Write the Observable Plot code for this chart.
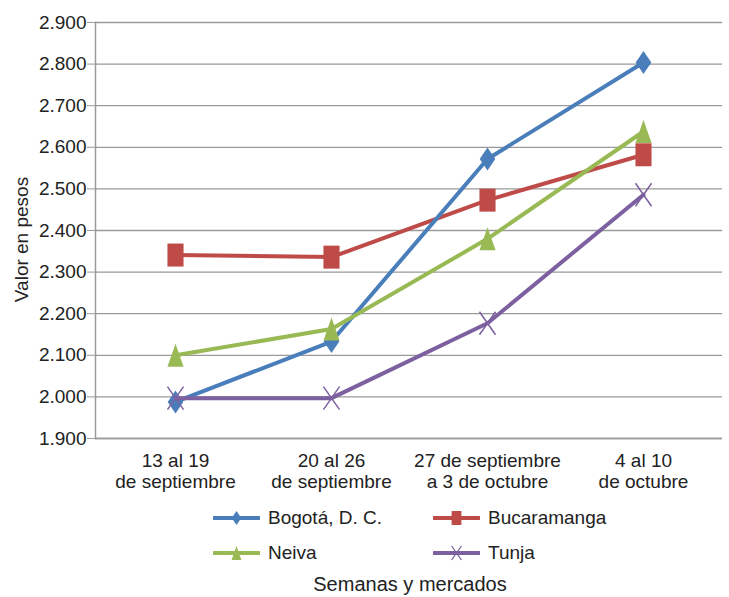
<!DOCTYPE html>
<html><head><meta charset="utf-8">
<script src="https://cdn.jsdelivr.net/npm/d3@7"></script>
<script src="https://cdn.jsdelivr.net/npm/@observablehq/plot@0.6"></script>
<style>
body{margin:0;background:#fff;font-family:Arial,"Liberation Sans",sans-serif;}
#wrap{position:relative;width:729px;height:597px;overflow:hidden;background:#fff}
#legend{position:relative;width:729px;height:97px}
.leg{position:absolute;display:flex;align-items:center;font-size:19px;color:#222;height:24px;line-height:24px;white-space:nowrap}
.leg svg{margin-right:8px}
#xtitle{position:absolute;left:0;width:820px;text-align:center;font-size:20px;color:#222;line-height:24px}
</style></head><body><div id="wrap"></div>
<script>
const weeks = ["13 al 19\nde septiembre", "20 al 26\nde septiembre", "27 de septiembre\na 3 de octubre", "4 al 10\nde octubre"];
const markets = ["Bogotá, D. C.", "Bucaramanga", "Neiva", "Tunja"];
const bogota = [1988, 2133, 2572, 2804];
const bucaramanga = [2341, 2336, 2473, 2582];
const neiva = [2100, 2163, 2380, 2638];
const tunja = [1997, 1997, 2177, 2486];
const yTicks = [1900, 2000, 2100, 2200, 2300, 2400, 2500, 2600, 2700, 2800, 2900];
const colors = ["#4a7ebb", "#be4b48", "#98b954", "#7d60a0"];
const yLabel = "Valor en pesos";
const xTitle = "Semanas y mercados";

const seriesValues = [bogota, bucaramanga, neiva, tunja];
const data = [];
markets.forEach((m, i) => seriesValues[i].forEach((v, j) => data.push({market: m, week: weeks[j], value: v})));

const fmt = d3.formatLocale({decimal: ",", thousands: ".", grouping: [3], currency: ["$", ""]}).format(",");

const W = 0.7;
const symDiamond = {draw(c, s) {const r = Math.sqrt(s / Math.PI), w = r * 0.68; c.moveTo(0, -r); c.lineTo(w, 0); c.lineTo(0, r); c.lineTo(-w, 0); c.closePath();}};
const symSquare = {draw(c, s) {const r = Math.sqrt(s / Math.PI), w = r * W; c.moveTo(-w, -r); c.lineTo(w, -r); c.lineTo(w, r); c.lineTo(-w, r); c.closePath();}};
const symTriangle = {draw(c, s) {const r = Math.sqrt(s / Math.PI), w = r * W; c.moveTo(0, -r); c.lineTo(w, r); c.lineTo(-w, r); c.closePath();}};
const symTimes = {draw(c, s) {const r = Math.sqrt(s / Math.PI), w = r * W; c.moveTo(-w, -r); c.lineTo(w, r); c.moveTo(w, -r); c.lineTo(-w, r);}};
const syms = [symDiamond, symSquare, symTriangle, symTimes];

const order = [1, 0, 2, 3];
const seriesMarks = [];
for (const i of order) {
  const d = data.filter(r => r.market === markets[i]);
  seriesMarks.push(Plot.line(d, {x: "week", y: "value", stroke: colors[i], strokeWidth: 4}));
  if (i === 3) seriesMarks.push(Plot.dot(d, {x: "week", y: "value", symbol: syms[i], r: 11.5, stroke: colors[i], fill: "none", strokeWidth: 1.5}));
  else seriesMarks.push(Plot.dot(d, {x: "week", y: "value", symbol: syms[i], r: 11.5, fill: colors[i], stroke: "none"}));
}

const chart = Plot.plot({
  width: 729, height: 500,
  marginLeft: 95, marginRight: 7, marginTop: 22, marginBottom: 62,
  style: {fontFamily: 'Arial, "Liberation Sans", sans-serif', fontSize: "19px", color: "#222", background: "#fff"},
  x: {type: "point", domain: weeks, padding: 0.5},
  y: {domain: [1900, 2900]},
  marks: [
    Plot.gridY(yTicks, {stroke: "#9a9a9a", strokeOpacity: 1, strokeWidth: 1.3}),
    Plot.frame({anchor: "left", stroke: "#9a9a9a", strokeWidth: 1.5}),
    Plot.ruleY([1900], {stroke: "#9a9a9a", strokeWidth: 1.5}),
    Plot.axisY({ticks: yTicks, tickSize: 8, tickPadding: 1, tickFormat: fmt, fontSize: 19, stroke: "#9a9a9a", fill: "#222", label: null}),
    Plot.axisX({tickSize: 0, tickPadding: 13, fontSize: 19, lineHeight: 1.12, fill: "#222", label: null}),
    Plot.text([yLabel], {frameAnchor: "left", textAnchor: "middle", dx: -74, dy: 9, rotate: -90, fontSize: 19, fill: "#222", text: d => d}),
    ...seriesMarks
  ]
});

const wrap = document.getElementById("wrap");
wrap.appendChild(chart);

function swatch(i) {
  const ns = "http://www.w3.org/2000/svg";
  const svg = document.createElementNS(ns, "svg");
  svg.setAttribute("width", 47); svg.setAttribute("height", 24);
  const line = document.createElementNS(ns, "line");
  line.setAttribute("x1", 1); line.setAttribute("x2", 46); line.setAttribute("y1", 12); line.setAttribute("y2", 12);
  line.setAttribute("stroke", colors[i]); line.setAttribute("stroke-width", 4); line.setAttribute("stroke-linecap", "round");
  svg.appendChild(line);
  const p = d3.path();
  const r = 7;
  syms[i].draw(p, r * r * Math.PI);
  const path = document.createElementNS(ns, "path");
  path.setAttribute("d", p.toString());
  path.setAttribute("transform", "translate(23.5,12)");
  if (i === 3) {path.setAttribute("stroke", colors[i]); path.setAttribute("fill", "none"); path.setAttribute("stroke-width", 1.3);}
  else path.setAttribute("fill", colors[i]);
  svg.appendChild(path);
  return svg;
}
const legend = document.createElement("div");
legend.id = "legend";
const pos = [[213, 6], [433, 6], [213, 41], [433, 41]];
markets.forEach((m, i) => {
  const it = document.createElement("div");
  it.className = "leg";
  it.style.left = pos[i][0] + "px"; it.style.top = pos[i][1] + "px";
  it.appendChild(swatch(i));
  const t = document.createElement("span"); t.textContent = m;
  it.appendChild(t);
  legend.appendChild(it);
});
const xt = document.createElement("div");
xt.id = "xtitle"; xt.textContent = xTitle; xt.style.top = "72px";
legend.appendChild(xt);
wrap.appendChild(legend);
</script></body></html>
